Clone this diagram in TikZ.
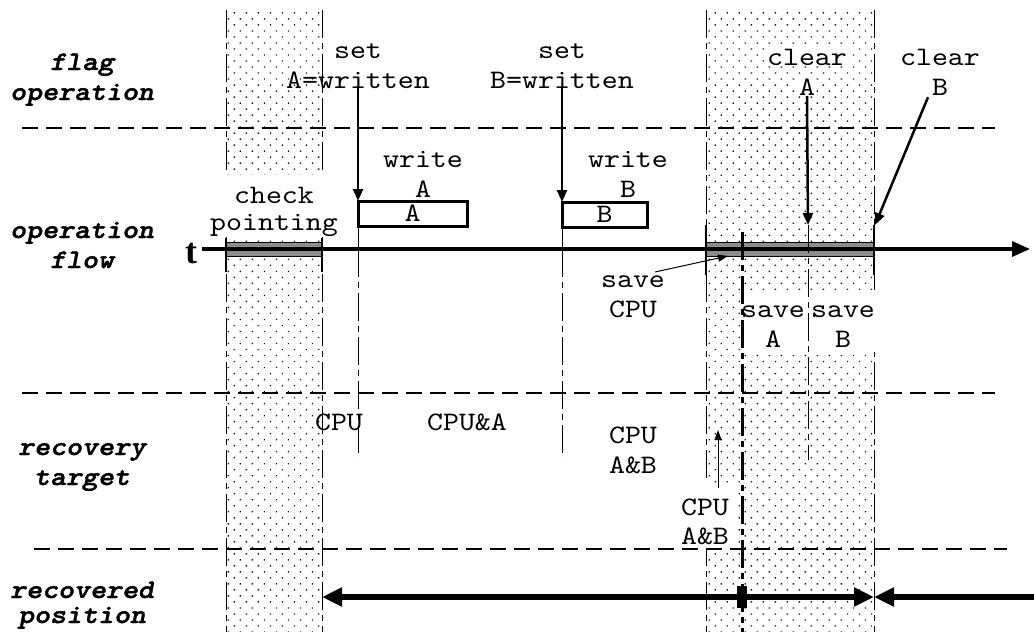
\documentclass[tikz,border=0pt]{standalone}
\usepackage{fontspec}
\newfontfamily\cour{lmmono10-regular}[Extension=.otf, BoldFont=lmmonolt10-bold, BoldItalicFont=lmmonolt10-boldoblique, ItalicFont=lmmono10-italic, FakeStretch=1.14, BoldItalicFeatures={FakeBold=1.6}]
\newfontfamily\tfont{Liberation Serif}
\usetikzlibrary{arrows.meta,patterns.meta}
\tikzset{
  lbl/.style={font=\fontsize{26.7}{30}\selectfont\cour, inner sep=0pt, anchor=base},
  wlbl/.style={lbl, fill=white, inner sep=1pt},
  side/.style={font=\fontsize{26.7}{30}\selectfont\cour\bfseries\itshape, inner sep=0pt, anchor=base},
  dotfill/.style={pattern={Dots[distance=8.5pt,angle=45,radius=1pt]}, pattern color=black!90},
  dashdot/.style={line width=1pt, dash pattern=on 28pt off 5pt on 6pt off 5pt},
  thickdashdot/.style={line width=3pt, dash pattern=on 28pt off 5pt on 6pt off 5pt},
  hdash/.style={line width=1.1pt, dash pattern=on 16pt off 8pt},
  arr/.style={line width=2.5pt, -{Triangle[length=12pt,width=10pt]}},
  thinarr/.style={line width=1pt, -{Triangle[length=10pt,width=7pt]}},
  bigarr/.style={line width=6pt, -{Triangle[length=20pt,width=18pt]}},
  axisarr/.style={line width=3.5pt, -{Triangle[length=18pt,width=15pt]}},
  tick/.style={line width=2.5pt},
  bar/.style={fill=black!45, draw=black, line width=0.8pt},
  wbox/.style={inner sep=0pt, outer sep=0pt, font=\fontsize{26.7}{30}\selectfont\cour},
}
\begin{document}
\begin{tikzpicture}[x=1pt,y=-1pt]
\useasboundingbox (0,0) rectangle (1034,632);
% shaded regions
\fill[dotfill] (226,10) rectangle (322,632);
\fill[dotfill] (706,10) rectangle (874,632);
\draw[dashdot] (226,10) -- (226,632);
\draw[dashdot] (322,10) -- (322,632);
\draw[dashdot] (706,10) -- (706,632);
\draw[dashdot] (874,10) -- (874,632);
% masks
\fill[white] (221,175) rectangle (327,236);
\fill[white] (743,290) rectangle (878,352);
\fill[white] (680,483) rectangle (738,549);
% horizontal separators
\draw[hdash] (22,128) -- (995,128);
\draw[hdash] (22,393) -- (995,393);
\draw[hdash] (34,549) -- (1007,549);
% side labels
\node[side] (fl1) at (82,70) {flag};
\node[side] (fl2) at (82,100) {operation};
\node[side] (of1) at (82,238) {operation};
\node[side] (of2) at (82,268) {flow};
\node[side] (rt1) at (82,455) {recovery};
\node[side] (rt2) at (82,485) {target};
\node[side] (rp1) at (82,598) {recovered};
\node[side] (rp2) at (82,623) {position};
% t label
\node[font=\fontsize{36}{40}\selectfont\tfont\bfseries, inner sep=0pt, anchor=base] (tl) at (191,263) {t};
% coordinates
\coordinate (axs) at (202,249);
\coordinate (axe) at (1030,249);
\coordinate (cAend) at (808,225);
\coordinate (cBend) at (875,225);
\coordinate (scs) at (655,272);
\coordinate (sce) at (728,256);
\coordinate (ups) at (718,488);
\coordinate (upe) at (718,430);
\coordinate (rp) at (742,597);
\coordinate (rl) at (322,597);
\coordinate (rr) at (874,597);
\coordinate (re) at (1034,597);
% bars
\draw[bar] (226,242) rectangle (322,256);
\draw[bar] (706,242) rectangle (874,256);
% axis
\draw[axisarr] (axs) -- (axe);
% ticks
\draw[tick] (226,238) -- (226,272);
\draw[tick] (322,238) -- (322,272);
\draw[tick] (706,225) -- (706,275);
\draw[tick] (874,225) -- (874,275);
% labels top
\node[lbl] (sA1) at (358,58) {set};
\node[lbl] (sA2) at (358,88) {A=written};
\node[lbl] (sB1) at (562,58) {set};
\node[lbl] (sB2) at (562,88) {B=written};
\node[lbl] (wA1) at (423,167) {write};
\node[lbl] (wA2) at (423,197) {A};
\node[lbl] (wB1) at (628,167) {write};
\node[lbl] (wB2) at (628,197) {B};
\node[wlbl] (cp1) at (274,203) {check};
\node[wlbl] (cp2) at (274,230) {pointing};
\node[wlbl] (cA1) at (807,65) {clear};
\node[wlbl] (cA2) at (807,95) {A};
\node[lbl] (cB1) at (940,65) {clear};
\node[lbl] (cB2) at (940,95) {B};
% boxes
\node[wbox, minimum width=109pt, minimum height=25pt, anchor=north west] (boxA) at (358,201) {A};
\draw[line width=3pt] (boxA.north west) -- (boxA.north east) -- (boxA.south east) -- (boxA.south west) -- cycle;
\node[wbox, minimum width=85pt, minimum height=25pt, anchor=north west] (boxB) at (562,202) {B};
\draw[line width=3pt] (boxB.north west) -- (boxB.north east) -- (boxB.south east) -- (boxB.south west) -- cycle;
% vertical event lines
\draw[line width=1pt] (boxA.south west) -- (358,249);
\draw[dashdot] (358,249) -- (358,458);
\draw[line width=1pt] (boxB.south west) -- (562,249);
\draw[dashdot] (562,249) -- (562,458);
\draw[dashdot] (cAend) -- (808,460);
\draw[thickdashdot] (742,232) -- (742,632);
% arrows
\draw[arr] (sA2.south -| boxA.north west) -- (boxA.north west);
\draw[arr] (sB2.south -| boxB.north west) -- (boxB.north west);
\draw[arr] (cA2.south) -- (cAend);
\draw[arr] ([xshift=-12pt,yshift=-2pt]cB2.south) -- (cBend);
% save labels
\node[lbl] (sc1) at (633,287) {save};
\node[lbl] (sc2) at (633,317) {CPU};
\draw[thinarr] (scs) -- (sce);
\node[lbl] (sa1) at (773,317) {save};
\node[lbl] (sa2) at (773,347) {A};
\node[lbl] (sb1) at (843,317) {save};
\node[lbl] (sb2) at (843,347) {B};
% recovery targets
\node[lbl] (t1) at (339,430) {CPU};
\node[lbl] (t2) at (467,430) {CPU\&A};
\node[lbl] (t3) at (633,443) {CPU};
\node[lbl] (t4) at (633,473) {A\&B};
\node[lbl] (t5) at (705,515) {CPU};
\node[lbl] (t6) at (705,544) {A\&B};
\draw[thinarr] (ups) -- (upe);
% recovered position
\draw[bigarr] (rp) -- (rl);
\draw[bigarr] (rp) -- (rr);
\draw[bigarr] (re) -- (rr);
\fill (737,586) rectangle (747,608);
\end{tikzpicture}
\end{document}
